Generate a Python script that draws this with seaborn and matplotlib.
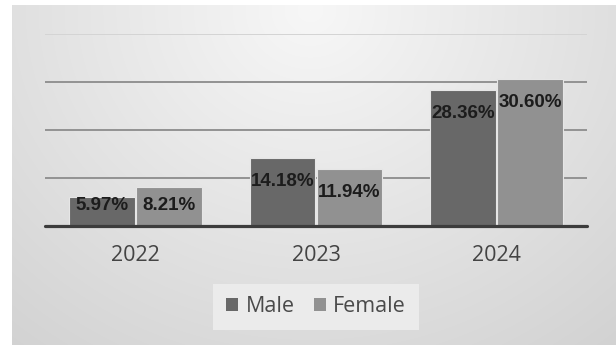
import numpy as np
import pandas as pd
import matplotlib
matplotlib.use("Agg")
import matplotlib.pyplot as plt
import seaborn as sns
from matplotlib.patches import Patch

# ---- data ----
years = ["2022", "2023", "2024"]
male = [5.97, 14.18, 28.36]
female = [8.21, 11.94, 30.60]
series = ["Male", "Female"]
label_text_male = ["5.97%", "14.18%", "28.36%"]
label_text_female = ["8.21%", "11.94%", "30.60%"]

df = pd.DataFrame({
    "Year": years * 2,
    "Value": male + female,
    "Series": ["Male"] * 3 + ["Female"] * 3,
})

sns.set_theme(style="white")
plt.rcParams["font.family"] = ["Open Sans", "DejaVu Sans"]

W, H = 616, 345
fig = plt.figure(figsize=(W / 100, H / 100), dpi=100)
fig.patch.set_facecolor("white")

# ---- gradient background of chart area ----
bx0, by0 = 12, 5
bg = fig.add_axes([bx0 / W, 0, 1 - bx0 / W, 1 - by0 / H], zorder=0)
yy, xx = np.mgrid[0:H - by0, 0:W - bx0]
xx = xx + bx0
yy = yy + by0
d = np.sqrt(((xx - 310) / 1.1) ** 2 + (yy - 10) ** 2)
v = np.clip(247 - 34 * (d / 400), 200, 250) / 255.0
bg.imshow(np.dstack([v, v, v]), aspect="auto", interpolation="bilinear")
bg.set_axis_off()

# ---- main axes ----
ax = fig.add_axes([45 / W, 1 - 226 / H, (587 - 45) / W, (226 - 34) / H], zorder=1)
ax.patch.set_alpha(0)

colors = {"Male": "#686868", "Female": "#919191"}
sns.barplot(data=df, x="Year", y="Value", hue="Series", hue_order=series,
            palette=colors, width=0.74, gap=0.02, ax=ax,
            edgecolor="#e6e6e6", linewidth=0.8, saturation=1, legend=False)

ax.set_xlim(-0.5, 2.5)
ax.set_ylim(0, 40)
ax.set_yticks([0, 10, 20, 30, 40])
ax.set_yticklabels([])
ax.tick_params(axis="y", length=0)
ax.tick_params(axis="x", length=0, pad=14, labelsize=15.5, labelcolor="#444444")
ax.set_xlabel("")
ax.set_ylabel("")
for s in ax.spines.values():
    s.set_visible(False)

ax.set_axisbelow(True)
ax.yaxis.grid(True, color="#929292", linewidth=1.4)
gl = ax.yaxis.get_gridlines()
gl[0].set_visible(False)
gl[-1].set_color("#d4d4d4")
ax.axhline(0, color="#3c3c3c", linewidth=2.3, zorder=5, clip_on=False)

# ---- data labels ----
fig.canvas.draw()
labels = [label_text_male, label_text_female]
for cont, labs in zip(ax.containers, labels):
    for bar, lab in zip(cont, labs):
        h = bar.get_height()
        hpx = ax.transData.transform((0, h))[1] - ax.transData.transform((0, 0))[1]
        off = float(np.clip(hpx - 29, 0, 15))
        ax.annotate(lab, (bar.get_x() + bar.get_width() / 2, h),
                    xytext=(0, -off), textcoords="offset pixels",
                    ha="center", va="top", fontsize=13.5, fontweight="bold",
                    color="#1c1c1c", family=["Liberation Sans", "DejaVu Sans"],
                    zorder=6)

# ---- legend ----
handles = [Patch(facecolor=colors[s], edgecolor="none") for s in series]
leg = fig.legend(handles, series, loc="center",
                 bbox_to_anchor=(316 / W, 1 - 307 / H), ncol=2,
                 frameon=True, fontsize=15.5, handlelength=0.55, handleheight=0.55,
                 handletextpad=0.35, columnspacing=0.9, borderpad=0.6)
leg.get_frame().set_facecolor("#ebebeb")
leg.get_frame().set_edgecolor("none")
leg.get_frame().set_boxstyle("square", pad=0.0)
leg.get_frame().set_alpha(1)
for t in leg.get_texts():
    t.set_color("#4a4a4a")
leg.set_zorder(3)

fig.savefig("out.png", dpi=100)
